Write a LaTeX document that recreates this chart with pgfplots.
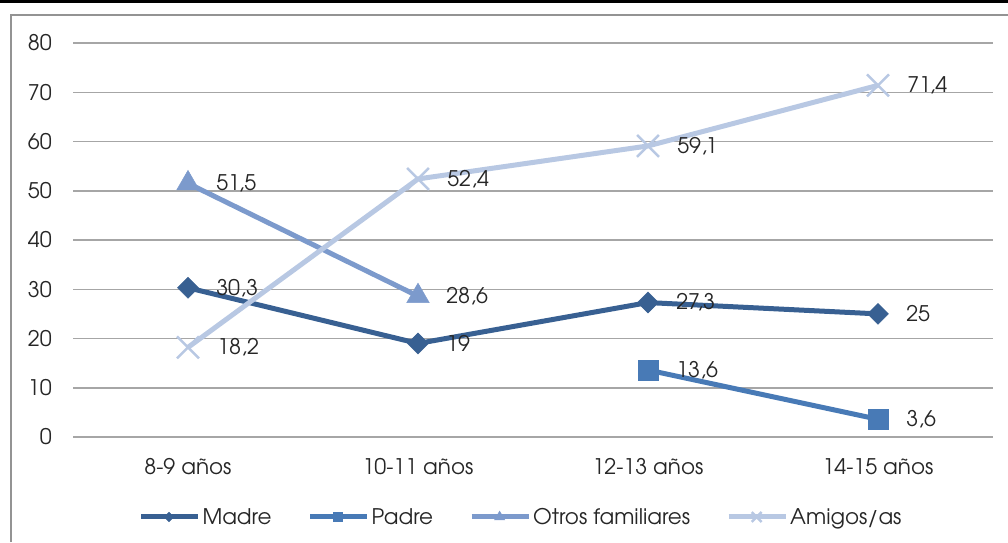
\documentclass[border=0pt]{standalone}
\usepackage{pgfplots}
\pgfplotsset{compat=1.18}
\usepackage{fontspec}
\setmainfont{TeX Gyre Adventor}

\definecolor{madre}{RGB}{56,96,146}
\definecolor{padre}{RGB}{72,122,182}
\definecolor{otros}{RGB}{124,154,204}
\definecolor{amigos}{RGB}{184,200,227}
\definecolor{rejilla}{RGB}{166,166,166}

\begin{document}
\begin{tikzpicture}
\path[use as bounding box] (0pt,0pt) rectangle (1008pt,-542pt);
\fill[black] (0pt,0pt) rectangle (1008pt,-3pt);
\draw[gray!85, line width=2.5pt] (11pt,-542pt) -- (11pt,-15pt) -- (1008pt,-15pt);
\begin{axis}[
  at={(73pt,-437pt)}, anchor=south west,
  scale only axis, width=920pt, height=394pt,
  xmin=-0.5, xmax=3.5, ymin=0, ymax=80,
  xtick={0,1,2,3},
  xticklabels={8-9 años,10-11 años,12-13 años,14-15 años},
  ytick={0,10,...,80},
  axis line style={draw=none},
  tick style={draw=none},
  ymajorgrids, grid style={color=rejilla, line width=1.5pt},
  clip=false,
  /pgf/number format/.cd, use comma, assume math mode=true, /pgfplots/.cd,
  every tick label/.append style={font=\fontsize{21.5}{25}\selectfont, text=black!85},
  yticklabel style={anchor=east, inner sep=0pt, xshift=-21pt},
  xticklabel style={anchor=north, inner sep=0pt, yshift=-21pt},
  nodes near coords,
  every node near coord/.append style={anchor=west, inner sep=0pt, xshift=28pt,
    font=\fontsize{21.5}{25}\selectfont, text=black!85},
  legend columns=4,
  legend style={draw=none, fill=none, at={(0.487,-0.203)}, anchor=center,
    font=\fontsize{21.5}{25}\selectfont, text=black!85,
    /tikz/every even column/.append style={column sep=34pt},
    /tikz/every odd column/.append style={column sep=0pt}},
  legend image code/.code={\draw[mark repeat=2, mark phase=2, #1,
      every mark/.append style={scale=0.45}]
    plot coordinates {(0pt,0pt) (28pt,0pt) (57pt,0pt)};},
]
\addplot[color=madre, line width=5pt, mark=square*,
  mark options={solid, rotate=45, line width=0.5pt}, mark size=7.4pt]
  coordinates {(0,30.3) (1,19) (2,27.3) (3,25)};
\addlegendentry{Madre}
\addplot[color=padre, line width=5pt, mark=square*,
  mark options={solid, line width=0.5pt}, mark size=10pt]
  coordinates {(2,13.6) (3,3.6)};
\addlegendentry{Padre}
\addplot[color=otros, line width=5pt, mark=triangle*,
  mark options={solid, line width=0.5pt}, mark size=13pt]
  coordinates {(0,51.5) (1,28.6)};
\addlegendentry{Otros familiares}
\addplot[color=amigos, line width=5pt, mark=x,
  mark options={solid, line width=2.5pt}, mark size=15.5pt]
  coordinates {(0,18.2) (1,52.4) (2,59.1) (3,71.4)};
\addlegendentry{Amigos/as}
\end{axis}
\end{tikzpicture}
\end{document}
